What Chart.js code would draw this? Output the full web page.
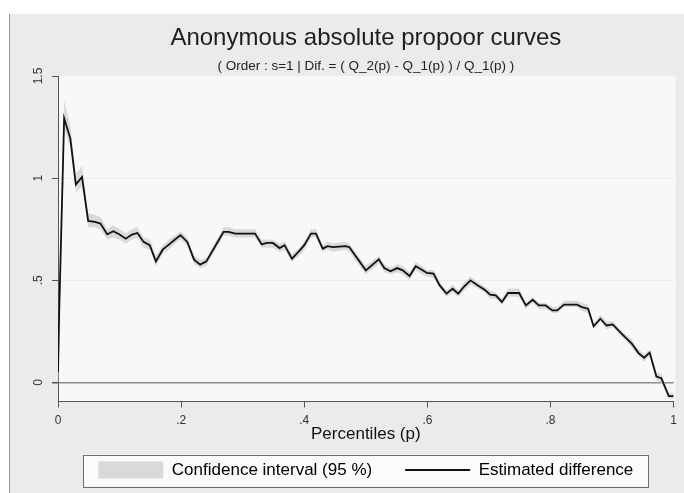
<!DOCTYPE html>
<html>
<head>
<meta charset="utf-8">
<script src="https://cdn.jsdelivr.net/npm/chart.js@4"></script>
<style>
  html, body { margin: 0; padding: 0; background: #fff; }
  canvas { display: block; }
</style>
</head>
<body>
<canvas id="propoorChart" width="684" height="493"></canvas>
<script>
const percentiles = [0, 0.002, 0.010, 0.020, 0.029, 0.039, 0.049, 0.060, 0.069, 0.080, 0.090, 0.100, 0.110, 0.120, 0.129, 0.139, 0.149, 0.159, 0.170, 0.180, 0.190, 0.199, 0.210, 0.221, 0.231, 0.241, 0.252, 0.264, 0.269, 0.277, 0.288, 0.320, 0.331, 0.339, 0.349, 0.360, 0.368, 0.380, 0.392, 0.400, 0.411, 0.419, 0.430, 0.438, 0.446, 0.467, 0.473, 0.500, 0.521, 0.530, 0.540, 0.551, 0.560, 0.571, 0.581, 0.591, 0.599, 0.610, 0.620, 0.631, 0.641, 0.650, 0.660, 0.670, 0.682, 0.693, 0.702, 0.711, 0.721, 0.731, 0.749, 0.760, 0.771, 0.781, 0.792, 0.803, 0.811, 0.822, 0.843, 0.851, 0.861, 0.870, 0.881, 0.891, 0.901, 0.913, 0.924, 0.932, 0.943, 0.952, 0.961, 0.972, 0.980, 0.992, 1.000];

const estimated = [0.05, 0.35, 1.293, 1.195, 0.969, 1.006, 0.791, 0.786, 0.778, 0.725, 0.740, 0.724, 0.704, 0.724, 0.732, 0.688, 0.672, 0.593, 0.650, 0.675, 0.700, 0.721, 0.688, 0.601, 0.577, 0.593, 0.650, 0.712, 0.737, 0.737, 0.729, 0.729, 0.676, 0.683, 0.683, 0.658, 0.672, 0.606, 0.644, 0.672, 0.729, 0.729, 0.655, 0.667, 0.663, 0.667, 0.663, 0.549, 0.603, 0.560, 0.544, 0.560, 0.549, 0.521, 0.569, 0.552, 0.536, 0.533, 0.475, 0.435, 0.459, 0.435, 0.471, 0.500, 0.475, 0.454, 0.430, 0.426, 0.394, 0.438, 0.438, 0.377, 0.405, 0.377, 0.377, 0.353, 0.353, 0.381, 0.381, 0.369, 0.361, 0.275, 0.312, 0.279, 0.284, 0.247, 0.214, 0.190, 0.144, 0.121, 0.146, 0.029, 0.021, -0.067, -0.067];

const ciLower = [-0.03, 0.22, 1.24, 1.15, 0.93, 0.96, 0.76, 0.76, 0.75, 0.70, 0.71, 0.70, 0.68, 0.70, 0.71, 0.66, 0.65, 0.57, 0.63, 0.65, 0.68, 0.70, 0.67, 0.58, 0.56, 0.57, 0.63, 0.69, 0.72, 0.72, 0.71, 0.71, 0.66, 0.66, 0.66, 0.64, 0.65, 0.59, 0.62, 0.65, 0.71, 0.71, 0.64, 0.65, 0.64, 0.65, 0.64, 0.53, 0.58, 0.54, 0.53, 0.54, 0.53, 0.50, 0.55, 0.53, 0.52, 0.51, 0.46, 0.42, 0.44, 0.42, 0.45, 0.48, 0.46, 0.44, 0.41, 0.41, 0.38, 0.42, 0.42, 0.36, 0.39, 0.36, 0.36, 0.34, 0.34, 0.37, 0.37, 0.35, 0.34, 0.26, 0.30, 0.26, 0.27, 0.23, 0.20, 0.17, 0.13, 0.10, 0.13, 0.01, 0.00, -0.08, -0.08];

const ciUpper = [0.13, 0.50, 1.38, 1.26, 1.02, 1.06, 0.83, 0.82, 0.81, 0.75, 0.77, 0.75, 0.73, 0.75, 0.76, 0.71, 0.70, 0.62, 0.67, 0.70, 0.72, 0.74, 0.71, 0.62, 0.60, 0.61, 0.67, 0.73, 0.76, 0.76, 0.75, 0.75, 0.70, 0.70, 0.70, 0.68, 0.69, 0.63, 0.66, 0.69, 0.75, 0.75, 0.67, 0.69, 0.68, 0.69, 0.68, 0.57, 0.62, 0.58, 0.56, 0.58, 0.57, 0.54, 0.59, 0.57, 0.55, 0.55, 0.49, 0.45, 0.48, 0.45, 0.49, 0.52, 0.49, 0.47, 0.45, 0.44, 0.41, 0.46, 0.46, 0.39, 0.42, 0.39, 0.39, 0.37, 0.37, 0.40, 0.40, 0.39, 0.38, 0.29, 0.33, 0.30, 0.30, 0.26, 0.23, 0.21, 0.16, 0.14, 0.16, 0.05, 0.04, -0.05, -0.05];

const xTickLabels = ['0', '.2', '.4', '.6', '.8', '1'];
const yTickValues = [0, 0.5, 1, 1.5];
const yTickLabels = ['0', '.5', '1', '1.5'];

const toPoints = ys => percentiles.map((p, i) => ({ x: p, y: ys[i] }));

Chart.defaults.font.family = '"Liberation Sans", Arial, sans-serif';
Chart.defaults.color = '#333';

// fundos: moldura cinza, area do grafico e caixa da legenda
const backgrounds = {
  id: 'backgrounds',
  beforeDraw(chart) {
    const { ctx, chartArea: a, legend } = chart;
    ctx.save();
    ctx.fillStyle = '#fff';
    ctx.fillRect(0, 0, chart.width, chart.height);
    ctx.fillStyle = '#ebebeb';
    ctx.fillRect(9, 14, chart.width - 9, chart.height - 14);
    ctx.strokeStyle = '#9a9a9a';
    ctx.lineWidth = 1;
    ctx.beginPath();
    ctx.moveTo(9.5, 14);
    ctx.lineTo(9.5, chart.height);
    ctx.stroke();
    ctx.fillStyle = '#f8f8f8';
    ctx.fillRect(a.left, a.top, a.right - a.left + 2, a.bottom - a.top);
    // caixa da legenda
    const cx = (legend.left + legend.right) / 2;
    const cy = legend.top + 33 + 8.5;
    ctx.fillStyle = '#fbfbfb';
    ctx.fillRect(cx - 282.5, cy - 15.5, 565, 32);
    ctx.strokeStyle = '#6e6e6e';
    ctx.strokeRect(Math.round(cx - 282.5) + 0.5, Math.round(cy - 15.5) + 0.5, 565, 32);
    ctx.restore();
  }
};

new Chart(document.getElementById('propoorChart'), {
  type: 'line',
  data: {
    datasets: [
      { label: 'ciUpper', data: toPoints(ciUpper), borderWidth: 0, pointRadius: 0, fill: '+1', backgroundColor: '#d9d9d9', order: 2 },
      { label: 'ciLower', data: toPoints(ciLower), borderWidth: 0, pointRadius: 0, fill: false, order: 1 },
      { label: 'Estimated difference', data: toPoints(estimated), borderColor: '#111', borderWidth: 1.8, pointRadius: 0, fill: false, order: 0 }
    ]
  },
  options: {
    responsive: false,
    animation: false,
    devicePixelRatio: 1,
    layout: { padding: { left: 20, right: 5, top: 0, bottom: 4.5 } },
    plugins: {
      tooltip: { enabled: false },
      title: {
        display: true,
        fullSize: false,
        text: 'Anonymous absolute propoor curves',
        color: '#1e1e1e',
        font: { size: 24, weight: 'normal' },
        padding: { top: 24.2, bottom: 5.2 }
      },
      subtitle: {
        display: true,
        fullSize: false,
        text: '( Order : s=1 | Dif. = ( Q_2(p) - Q_1(p) ) / Q_1(p) )',
        color: '#222',
        font: { size: 13.5 },
        padding: { top: 0, bottom: 1.6 }
      },
      legend: {
        position: 'bottom',
        fullSize: false,
        labels: {
          usePointStyle: true,
          pointStyleWidth: 65,
          boxHeight: 17,
          padding: 33,
          color: '#111',
          font: { size: 17 },
          generateLabels: () => [
            { text: 'Confidence interval (95 %)', pointStyle: 'rect', fillStyle: '#d9d9d9', strokeStyle: '#d9d9d9', lineWidth: 0, datasetIndex: 0 },
            { text: 'Estimated difference', pointStyle: 'line', fillStyle: '#111', strokeStyle: '#111', lineWidth: 1.8, datasetIndex: 2 }
          ]
        }
      }
    },
    scales: {
      x: {
        type: 'linear',
        min: 0,
        max: 1,
        bounds: 'data',
        grid: { drawOnChartArea: false, tickLength: 6, tickColor: '#555' },
        border: { color: '#555', width: 1 },
        ticks: {
          stepSize: 0.2,
          padding: 7,
          font: { size: 12, lineHeight: 1 },
          color: '#333',
          callback: v => xTickLabels[Math.round(v * 5)]
        },
        title: {
          display: true,
          text: 'Percentiles (p)',
          color: '#111',
          font: { size: 17, lineHeight: 1 },
          padding: { top: -8, bottom: -14 }
        }
      },
      y: {
        min: -0.093,
        max: 1.5,
        bounds: 'data',
        afterFit: scale => { scale.width = 38; },
        afterBuildTicks: scale => { scale.ticks = yTickValues.map(v => ({ value: v })); },
        grid: {
          tickLength: 6,
          tickColor: '#555',
          color: c => c.tick.value === 0 ? '#8c8c8c' : (c.tick.value >= 1.5 ? 'rgba(0,0,0,0)' : '#ececec'),
          lineWidth: c => c.tick.value === 0 ? 1.5 : 1
        },
        border: { color: '#555', width: 1 },
        ticks: {
          minRotation: 90,
          maxRotation: 90,
          crossAlign: 'center',
          padding: 5,
          font: { size: 12 },
          color: '#333',
          callback: (v, i) => yTickLabels[i]
        }
      }
    }
  },
  plugins: [backgrounds]
});
</script>
</body>
</html>
